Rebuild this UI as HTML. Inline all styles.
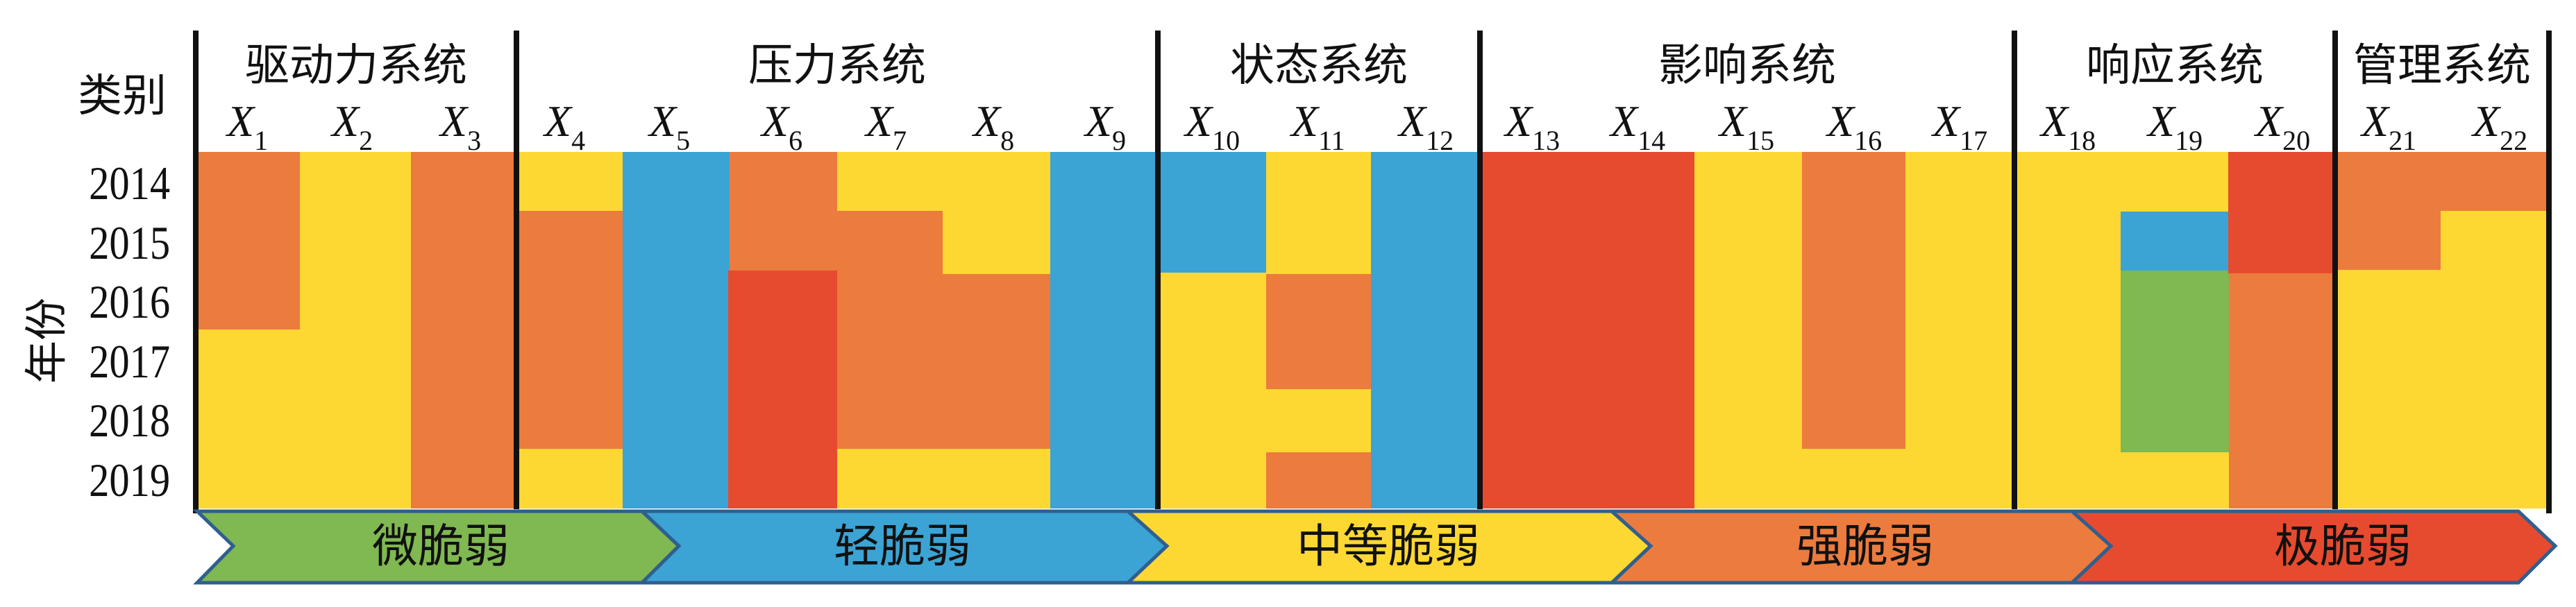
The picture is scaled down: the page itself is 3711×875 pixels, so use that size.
<!DOCTYPE html>
<html><head><meta charset="utf-8"><style>
html,body{margin:0;padding:0;background:#fff;}
svg{display:block;}
text{font-family:"Liberation Serif","Noto Serif CJK SC","Noto Sans CJK SC",serif;fill:#111;}
.cjk{font-family:"Liberation Sans","Noto Sans CJK SC",sans-serif;}
</style></head><body>
<svg width="3711" height="875" viewBox="0 0 3711 875" xmlns="http://www.w3.org/2000/svg">
<g shape-rendering="crispEdges">
<rect x="285" y="219" width="3383" height="514" fill="#FED832"/>
<rect x="285" y="219" width="147" height="256" fill="#EC7B3E"/>
<rect x="592" y="219" width="152" height="514" fill="#EC7B3E"/>
<rect x="744" y="304" width="153" height="343" fill="#EC7B3E"/>
<rect x="897" y="219" width="154" height="514" fill="#3BA4D5"/>
<rect x="1051" y="219" width="155" height="171" fill="#EC7B3E"/>
<rect x="1049" y="390" width="157" height="343" fill="#E64B2F"/>
<rect x="1206" y="304" width="152" height="343" fill="#EC7B3E"/>
<rect x="1358" y="395" width="155" height="252" fill="#EC7B3E"/>
<rect x="1513" y="219" width="155" height="514" fill="#3BA4D5"/>
<rect x="1668" y="219" width="156" height="174" fill="#3BA4D5"/>
<rect x="1824" y="395" width="151" height="166" fill="#EC7B3E"/>
<rect x="1824" y="652" width="151" height="81" fill="#EC7B3E"/>
<rect x="1975" y="219" width="157" height="514" fill="#3BA4D5"/>
<rect x="2132" y="219" width="309" height="514" fill="#E64B2F"/>
<rect x="2596" y="219" width="149" height="428" fill="#EC7B3E"/>
<rect x="3055" y="305" width="155" height="85" fill="#3BA4D5"/>
<rect x="3055" y="390" width="156" height="262" fill="#80B851"/>
<rect x="3210" y="219" width="154" height="175" fill="#E64B2F"/>
<rect x="3211" y="394" width="153" height="339" fill="#EC7B3E"/>
<rect x="3364" y="219" width="304" height="85" fill="#EC7B3E"/>
<rect x="3364" y="304" width="152" height="85" fill="#EC7B3E"/>
</g>
<g stroke="#111" stroke-width="8">
<line x1="282" y1="44" x2="282" y2="740"/>
<line x1="744" y1="44" x2="744" y2="734"/>
<line x1="1668" y1="44" x2="1668" y2="734"/>
<line x1="2132" y1="44" x2="2132" y2="734"/>
<line x1="2902" y1="44" x2="2902" y2="734"/>
<line x1="3364" y1="44" x2="3364" y2="734"/>
<line x1="3672" y1="44" x2="3672" y2="740"/>
</g>
<g font-size="64" text-anchor="middle">
<text class="cjk" x="513" y="116">驱动力系统</text>
<text class="cjk" x="1206" y="116">压力系统</text>
<text class="cjk" x="1900" y="116">状态系统</text>
<text class="cjk" x="2517" y="116">影响系统</text>
<text class="cjk" x="3133" y="116">响应系统</text>
<text class="cjk" x="3518" y="116">管理系统</text>
<text class="cjk" x="176" y="160" font-size="64">类别</text>
</g>
<text class="cjk" font-size="62" transform="translate(88,491) rotate(-90)" text-anchor="middle">年份</text>
<g font-size="68" text-anchor="middle" transform="scale(0.86,1)">
<text x="217" y="287">2014</text>
<text x="217" y="373">2015</text>
<text x="217" y="458">2016</text>
<text x="217" y="544">2017</text>
<text x="217" y="629">2018</text>
<text x="217" y="715">2019</text>
</g>
<g font-size="64" font-style="italic">
<text x="327" y="196">X<tspan font-style="normal" font-size="40" dy="20">1</tspan></text>
<text x="478" y="196">X<tspan font-style="normal" font-size="40" dy="20">2</tspan></text>
<text x="634" y="196">X<tspan font-style="normal" font-size="40" dy="20">3</tspan></text>
<text x="784" y="196">X<tspan font-style="normal" font-size="40" dy="20">4</tspan></text>
<text x="935" y="196">X<tspan font-style="normal" font-size="40" dy="20">5</tspan></text>
<text x="1097" y="196">X<tspan font-style="normal" font-size="40" dy="20">6</tspan></text>
<text x="1247" y="196">X<tspan font-style="normal" font-size="40" dy="20">7</tspan></text>
<text x="1402" y="196">X<tspan font-style="normal" font-size="40" dy="20">8</tspan></text>
<text x="1563" y="196">X<tspan font-style="normal" font-size="40" dy="20">9</tspan></text>
<text x="1707" y="196">X<tspan font-style="normal" font-size="40" dy="20">10</tspan></text>
<text x="1860" y="196">X<tspan font-style="normal" font-size="40" dy="20">11</tspan></text>
<text x="2015" y="196">X<tspan font-style="normal" font-size="40" dy="20">12</tspan></text>
<text x="2168" y="196">X<tspan font-style="normal" font-size="40" dy="20">13</tspan></text>
<text x="2320" y="196">X<tspan font-style="normal" font-size="40" dy="20">14</tspan></text>
<text x="2477" y="196">X<tspan font-style="normal" font-size="40" dy="20">15</tspan></text>
<text x="2632" y="196">X<tspan font-style="normal" font-size="40" dy="20">16</tspan></text>
<text x="2784" y="196">X<tspan font-style="normal" font-size="40" dy="20">17</tspan></text>
<text x="2940" y="196">X<tspan font-style="normal" font-size="40" dy="20">18</tspan></text>
<text x="3094" y="196">X<tspan font-style="normal" font-size="40" dy="20">19</tspan></text>
<text x="3249" y="196">X<tspan font-style="normal" font-size="40" dy="20">20</tspan></text>
<text x="3402" y="196">X<tspan font-style="normal" font-size="40" dy="20">21</tspan></text>
<text x="3562" y="196">X<tspan font-style="normal" font-size="40" dy="20">22</tspan></text>
</g>
<g stroke="#2F5F8F" stroke-width="5" stroke-linejoin="miter">
<polygon points="284,737 925,737 978,787 925,840 284,840 336,787" fill="#80B851"/>
<polygon points="925,737 1625,737 1681,787 1625,840 925,840 978,787" fill="#3BA4D5"/>
<polygon points="1625,737 2322,737 2378,787 2322,840 1625,840 1681,787" fill="#FED832"/>
<polygon points="2322,737 2985,737 3041,787 2985,840 2322,840 2378,787" fill="#EC7B3E"/>
<polygon points="2985,737 3628,737 3681,787 3628,840 2985,840 3041,787" fill="#E64B2F"/>
</g>
<g font-size="66" text-anchor="middle">
<text class="cjk" x="635" y="810">微脆弱</text>
<text class="cjk" x="1300" y="810">轻脆弱</text>
<text class="cjk" x="2000" y="810">中等脆弱</text>
<text class="cjk" x="2687" y="810">强脆弱</text>
<text class="cjk" x="3375" y="810">极脆弱</text>
</g>
</svg>
</body></html>
